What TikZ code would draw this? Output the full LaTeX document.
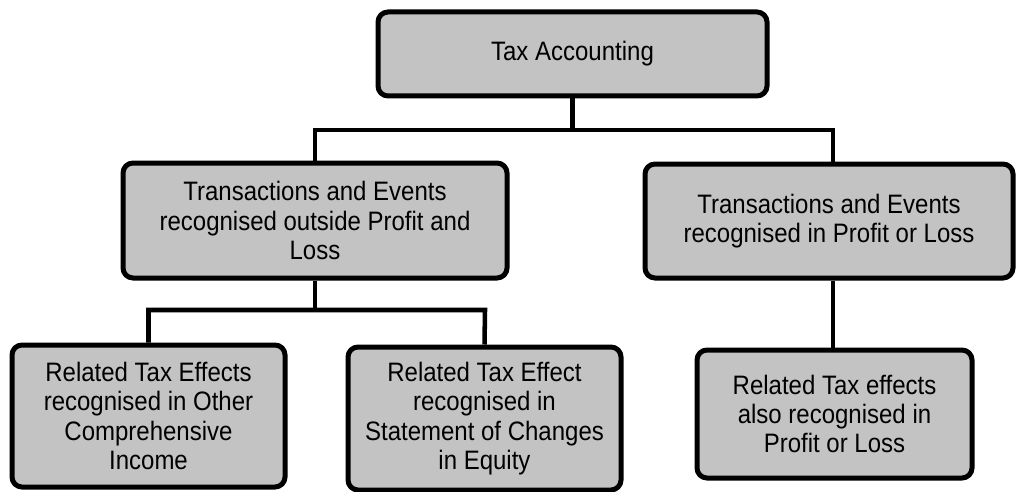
\documentclass[tikz,border=0pt]{standalone}
\usepackage{fontspec}
\setmainfont[FakeStretch=0.9]{Liberation Sans}
\definecolor{boxgray}{RGB}{195,195,195}
\begin{document}
\begin{tikzpicture}[x=0.75pt,y=-0.75pt,
  box/.style={draw=black, fill=boxgray, line width=3.75pt, rounded corners=7.5pt,
    align=center, inner sep=0pt, font=\fontsize{20pt}{22pt}\selectfont},
  conn/.style={draw=black, line width=3.4pt}]
\useasboundingbox (0,0) rectangle (1017,492);
\node[box, minimum width=291.75pt, minimum height=63pt] (top) at (572.5,54) {Tax Accounting};
\node[box, minimum width=288pt, minimum height=86.25pt] (midL) at (315,220.5)
  {Transactions and Events\\recognised outside Profit and\\Loss};
\node[box, minimum width=276pt, minimum height=85.5pt] (midR) at (829,221)
  {Transactions and Events\\recognised in Profit or Loss};
\node[box, minimum width=204.75pt, minimum height=106.5pt] (botL) at (148.5,416)
  {Related Tax Effects\\recognised in Other\\Comprehensive\\Income};
\node[box, minimum width=204.75pt, minimum height=107.25pt] (botM) at (484.5,418.5)
  {Related Tax Effect\\recognised in\\Statement of Changes\\in Equity};
\node[box, minimum width=206.25pt, minimum height=96pt] (botR) at (834.5,414)
  {Related Tax effects\\also recognised in\\Profit or Loss};
\coordinate (jl) at (315,130);
\coordinate (jr) at (833,130);
\coordinate (kl) at (149,310);
\coordinate (kr) at (485,310);
\draw[conn] (top.south) -- (top.south |- jl);
\draw[conn] (midL.north) |- (jr) -- (jr |- midR.north);
\draw[conn] (midL.south) -- (midL.south |- kl);
\draw[conn] (botL.north) |- (kr) -- (botM.north);
\draw[conn] (jr |- midR.south) -- (jr |- botR.north);
\end{tikzpicture}
\end{document}
